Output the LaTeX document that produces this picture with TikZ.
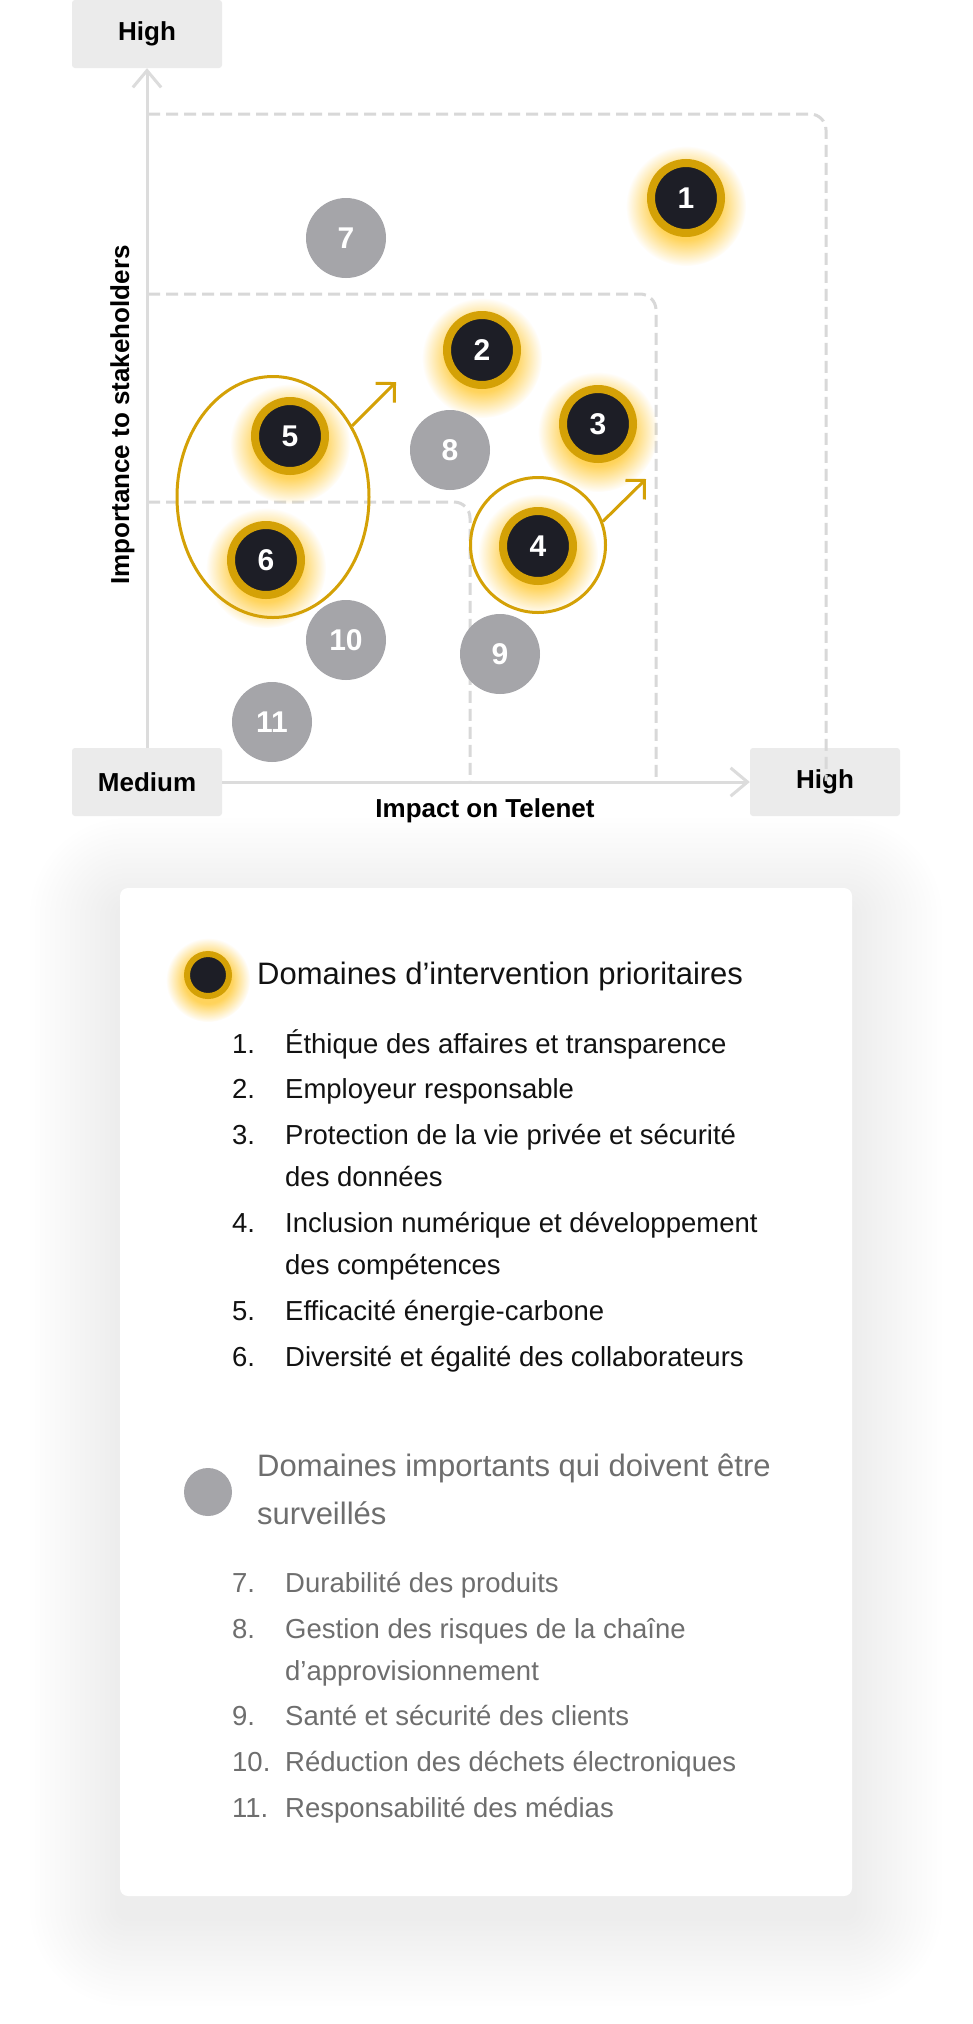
\documentclass[tikz,border=0pt]{standalone}
\usepackage{fontspec}
\setmainfont{Liberation Sans}
\usetikzlibrary{arrows.meta, positioning, shapes.geometric, fadings}
\definecolor{Gold}{HTML}{D4A106}
\definecolor{Ink}{HTML}{1D1E26}
\definecolor{Stone}{HTML}{A5A5A9}
\definecolor{Glow}{HTML}{FFC933}
\definecolor{AxisGray}{HTML}{DCDCDC}
\definecolor{DashGray}{HTML}{D8D8D8}
\definecolor{BoxGray}{HTML}{EBEBEB}
\definecolor{TextDark}{HTML}{121212}
\definecolor{TextGray}{HTML}{6E6E6E}
\pgfdeclareradialshading{glowshade}{\pgfpointorigin}{color(0bp)=(pgftransparent!0); color(14bp)=(pgftransparent!0); color(25bp)=(pgftransparent!100); color(50bp)=(pgftransparent!100)}
\pgfdeclarefading{glowfade}{\pgfuseshading{glowshade}}
\newcommand{\twolines}[2]{\vtop{\hbox{#1}\hbox{#2}}}

\begin{document}
\begin{tikzpicture}[
    x=1pt, y=-1pt,
    tag/.style={fill=BoxGray, rounded corners=3pt, minimum width=150pt, minimum height=68pt,
        inner sep=0pt, text=black, font=\bfseries\fontsize{26}{26}\selectfont},
    axis/.style={AxisGray, line width=3pt, -{Straight Barb[angle=80:22pt]}},
    zone/.style={DashGray, line width=3pt, dash pattern=on 12pt off 6pt, rounded corners=16pt},
    prio/.style={circle, draw=Gold, line width=8pt, fill=Ink, minimum size=70pt, inner sep=0pt,
        text=white, font=\bfseries\fontsize{30}{30}\selectfont},
    watch/.style={circle, fill=Stone, minimum size=80pt, inner sep=0pt,
        text=white, font=\bfseries\fontsize{30}{30}\selectfont},
    glow/.style={fill=Glow, fill opacity=0.8, path fading=glowfade},
    group/.style={draw=Gold, line width=3pt, inner sep=0pt},
    trend/.style={Gold, line width=3pt, -{Straight Barb[angle=90:19pt]}},
    card/.style={fill=white, rounded corners=8pt, minimum width=732pt, minimum height=1008pt},
    entry/.style={anchor=base west, inner sep=0pt, font=\fontsize{27.5}{42}\selectfont},
]
\useasboundingbox (0,0) rectangle (972,2024);
\fill[white] (0,0) rectangle (972,2024);

% axis boxes
\node[tag] (highY) at (147,34) {High};
\node[tag] (medium) at (147,782) {Medium};
\node[tag] (highX) at (825,782) {High};

% zones
\draw[zone] (148,114) -| (826,781);
\draw[zone] (148,294) -| (656,781);
\draw[zone] (148,502) -| (470,781);

% axes
\draw[axis] (medium.north) -- (highY.south);
\draw[axis] (medium.east) -- (highX.west);
\node[anchor=base, inner sep=0pt, font=\bfseries\fontsize{26}{26}\selectfont] (xlab) at (485,817) {Impact on Telenet};
\node[anchor=base, rotate=90, inner sep=0pt, font=\bfseries\fontsize{26}{26}\selectfont] (ylab) at (129,415) {Importance to stakeholders};

% halo
\foreach \x/\y in {686/198, 482/350, 598/424, 538/546, 290/436, 266/560}
    \fill[glow] (\x,\y+8) circle (60);

% groupes
\node[group, ellipse, minimum width=192pt, minimum height=241pt] (g56) at (273,497) {};
\node[group, circle, minimum size=135pt] (g4) at (538,545) {};
\coordinate (t56) at (396,382);
\coordinate (t4) at (646,479);
\draw[trend] (g56.42) -- (t56);
\draw[trend] (g4.20) -- (t4);

% bulles
\foreach \n/\x/\y in {1/686/198, 2/482/350, 3/598/424, 4/538/546, 5/290/436, 6/266/560}
    \node[prio] (b\n) at (\x,\y) {\n};
\foreach \n/\x/\y in {7/346/238, 8/450/450, 9/500/654, 10/346/640, 11/272/722}
    \node[watch] (b\n) at (\x,\y) {\n};

% legende
\foreach \k in {1,...,18}
    \fill[black, fill opacity=0.0035, rounded corners=8+5*\k]
        (120-5*\k, 908-5*\k) rectangle (852+5*\k, 1916+5*\k);
\node[card] (panel) at (486,1392) {};

\fill[glow] (208,980) circle (42);
\node[prio, line width=6pt, minimum size=42pt] (keyprio) at (208,975) {};
\node[entry, text=TextDark, font=\fontsize{31}{48}\selectfont] (titleprio) at (257,984)
    {Domaines d’intervention prioritaires};
\foreach \n/\yy/\txt in {
    1/1053/{Éthique des affaires et transparence},
    2/1098/{Employeur responsable},
    3/1144/{\twolines{Protection de la vie privée et sécurité}{des données}},
    4/1232/{\twolines{Inclusion numérique et développement}{des compétences}},
    5/1320/{Efficacité énergie-carbone},
    6/1366/{Diversité et égalité des collaborateurs}} {
    \node[entry, text=TextDark] (num\n) at (232,\yy) {\n.};
    \node[entry, text=TextDark] (item\n) at (285,\yy) {\txt};
}

\node[circle, fill=Stone, minimum size=48pt, inner sep=0pt] (keywatch) at (208,1492) {};
\node[entry, text=TextGray, font=\fontsize{31}{48}\selectfont] (titlewatch) at (257,1476)
    {\twolines{Domaines importants qui doivent être}{surveillés}};
\foreach \n/\yy/\txt in {
    7/1592/{Durabilité des produits},
    8/1638/{\twolines{Gestion des risques de la chaîne}{d’approvisionnement}},
    9/1725/{Santé et sécurité des clients},
    10/1771/{Réduction des déchets électroniques},
    11/1817/{Responsabilité des médias}} {
    \node[entry, text=TextGray] (num\n) at (232,\yy) {\n.};
    \node[entry, text=TextGray] (item\n) at (285,\yy) {\txt};
}

\end{tikzpicture}
\end{document}
